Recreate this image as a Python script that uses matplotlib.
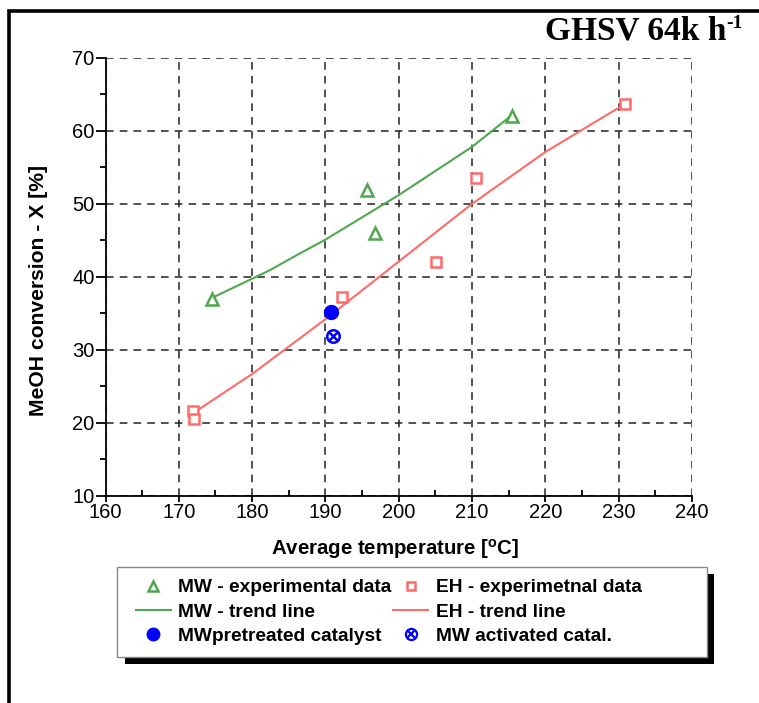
import matplotlib
matplotlib.use("Agg")
import matplotlib.pyplot as plt
from matplotlib.lines import Line2D
from matplotlib.patches import Rectangle
from matplotlib.legend_handler import HandlerTuple
from matplotlib.ticker import MultipleLocator

plt.rcParams["font.family"] = ["Liberation Sans", "DejaVu Sans"]
plt.rcParams["mathtext.fontset"] = "custom"
plt.rcParams["mathtext.rm"] = "Liberation Sans"
plt.rcParams["mathtext.bf"] = "Liberation Sans:bold"

# experimental data
mw_temp = [174.5, 195.7, 196.8, 215.5]
mw_conv = [37.0, 51.9, 46.0, 62.0]
eh_temp = [171.9, 172.1, 192.2, 205.1, 210.6, 230.9]
eh_conv = [21.7, 20.6, 37.3, 42.1, 53.6, 63.7]

# trend lines
mw_trend_t = [174.7, 182.4, 186.5, 190.0, 200.0, 210.0, 215.0]
mw_trend_x = [37.2, 40.9, 43.2, 45.1, 51.2, 57.8, 61.8]
eh_trend_t = [171.9, 180.0, 190.0, 200.0, 210.0, 220.0, 230.9]
eh_trend_x = [21.3, 26.7, 34.2, 42.1, 50.0, 57.1, 63.7]

# single points
pre_temp, pre_conv = [190.8], [35.2]
act_temp, act_conv = [191.0], [31.9]

green = "#4fa84f"
red = "#ff6b6b"
blue = "#0000ff"

fig = plt.figure(figsize=(7.59, 7.03), dpi=100)
ax = fig.add_axes([0.139, 0.2945, 0.7728, 0.6234])

ax.plot(mw_trend_t, mw_trend_x, color=green, lw=1.5, zorder=3)
ax.plot(eh_trend_t, eh_trend_x, color=red, lw=1.5, zorder=3)
ax.plot(mw_temp, mw_conv, ls="none", marker="^", ms=9, mfc="white", mec=green, mew=1.8, zorder=4)
ax.plot(eh_temp, eh_conv, ls="none", marker="s", ms=6.5, mfc="white", mec=red, mew=1.8, zorder=4)
ax.plot(pre_temp, pre_conv, ls="none", marker="o", ms=10, color=blue, zorder=5)
ax.plot(act_temp, act_conv, ls="none", marker="o", ms=9, mfc="none", mec=blue, mew=1.8, zorder=5)
ax.plot(act_temp, act_conv, ls="none", marker="x", ms=7, mec=blue, mew=1.8, zorder=5)

ax.set_xlim(160, 240)
ax.set_ylim(10, 70)
ax.xaxis.set_major_locator(MultipleLocator(10))
ax.xaxis.set_minor_locator(MultipleLocator(5))
ax.yaxis.set_major_locator(MultipleLocator(10))
ax.yaxis.set_minor_locator(MultipleLocator(5))

ax.grid(True, which="major", color="#222222", ls=(0, (5, 4)), lw=1.1)
for s in ["top", "right"]:
    ax.spines[s].set_visible(False)
for s in ["left", "bottom"]:
    ax.spines[s].set_linewidth(1.3)

ax.tick_params(axis="both", which="major", labelsize=14.5, width=1.3, direction="out", pad=1)
ax.tick_params(axis="y", which="major", length=7)
ax.tick_params(axis="x", which="major", length=4)
ax.tick_params(axis="y", which="minor", length=4, width=1.3, direction="out")
ax.tick_params(axis="x", which="minor", length=4, width=1.3, direction="in")

ax.set_xlabel(r"Average temperature [$^{\mathbf{o}}$C]", fontsize=14.7, fontweight="bold")
ax.set_ylabel("MeOH conversion - X [%]", fontsize=15.2, fontweight="bold")
ax.xaxis.set_label_coords(0.493, -0.094)
ax.yaxis.set_label_coords(-0.098, 0.468)

# title with superscript
title = fig.text(545 / 759, 1 - 40 / 703, "GHSV 64k h", fontsize=24, fontweight="bold",
                 family="Liberation Serif", ha="left", va="baseline")
fig.canvas.draw()
ax.annotate("-1", xy=(1.0, 0.5), xycoords=title, fontsize=14, fontweight="bold",
            family="Liberation Serif", ha="left", va="bottom")

# outer frame
fig.patches.append(Rectangle((9 / 759, -0.1), 1.2, 1 - 11.5 / 703 + 0.1, transform=fig.transFigure,
                             fill=False, ec="black", lw=2.6, clip_on=False))

# legend box with black shadow
W, H = 759.0, 703.0
fig.patches.append(Rectangle((125 / W, 1 - 664 / H), 589 / W, 90 / H, transform=fig.transFigure,
                             fc="black", ec="none", zorder=1))
fig.patches.append(Rectangle((117 / W, 1 - 657 / H), 590 / W, 90 / H, transform=fig.transFigure,
                             fc="white", ec="#888888", lw=1.0, zorder=2))

h_mw = Line2D([], [], ls="none", marker="^", ms=7, mfc="white", mec=green, mew=1.8)
h_eh = Line2D([], [], ls="none", marker="s", ms=6, mfc="white", mec=red, mew=1.8)
h_mwl = Line2D([], [], color=green, lw=1.5)
h_ehl = Line2D([], [], color=red, lw=1.5)
h_pre = Line2D([], [], ls="none", marker="o", ms=9, color=blue)
h_act = (Line2D([], [], ls="none", marker="o", ms=8, mfc="none", mec=blue, mew=1.6),
         Line2D([], [], ls="none", marker="x", ms=6, mec=blue, mew=1.6))

leg = fig.legend([h_mw, h_mwl, h_pre, h_eh, h_ehl, h_act],
                 ["MW - experimental data", "MW - trend line", "MWpretreated catalyst",
                  "EH - experimetnal data", "EH - trend line", "MW activated catal."],
                 handler_map={tuple: HandlerTuple(ndivide=1)},
                 loc="upper left", bbox_to_anchor=(136 / W, 1 - 579 / H), ncol=2,
                 frameon=False, borderpad=0, borderaxespad=0, handlelength=1.8,
                 handletextpad=0.4, columnspacing=0.1, labelspacing=0.36,
                 prop={"weight": "bold", "size": 13.8})
leg.set_zorder(3)

fig.savefig("out.png", dpi=100)
